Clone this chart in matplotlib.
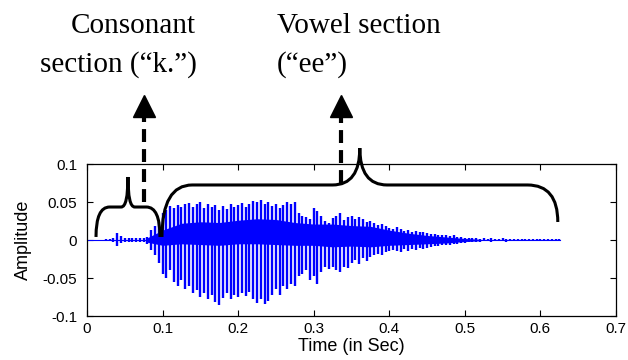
import numpy as np
import matplotlib
matplotlib.use("Agg")
import matplotlib.pyplot as plt
from matplotlib.path import Path
from matplotlib.patches import PathPatch

# one vertical stroke every 5 ms: upper and lower extent
stroke_dt = 0.005
stroke_hi = [
    .0005, .0005, .0006, .0005, .0006, .0008, .001, .002, .0095, .005,
    .003, .002, .0025, .002, .0025, .003, .004, .013, .018, .024,
    .035, .04, .045, .042, .046, .043, .047, .049, .044, .048,
    .05, .042, .047, .044, .046, .04, .045, .041, .048, .043,
    .046, .049, .044, .048, .051, .05, .053, .047, .05, .045,
    .048, .042, .046, .05, .048, .05, .036, .032, .03, .028,
    .042, .038, .032, .025, .022, .029, .031, .035, .026, .03,
    .032, .028, .03, .027, .024, .025, .022, .02, .021, .018,
    .016, .015, .017, .014, .012, .013, .011, .012, .01, .011,
    .009, .008, .008, .007, .006, .007, .005, .006, .004, .004,
    .003, .003, .0025, .002, .0018, .002, .0015, .002, .0016, .0015,
    .002, .0014, .0015, .0018, .0012, .0015, .0014, .0012, .0015, .0012,
    .001, .0012, .001, .0012, .001, .0008,
]
stroke_lo = [
    -.0005, -.0005, -.0005, -.0006, -.0005, -.0007, -.001, -.002, -.008, -.004,
    -.003, -.0025, -.002, -.0025, -.002, -.003, -.005, -.013, -.02, -.03,
    -.045, -.05, -.04, -.055, -.06, -.052, -.065, -.06, -.07, -.066,
    -.075, -.07, -.078, -.072, -.082, -.085, -.076, -.07, -.078, -.072,
    -.075, -.07, -.074, -.068, -.078, -.083, -.077, -.084, -.08, -.072,
    -.065, -.072, -.06, -.065, -.058, -.06, -.048, -.045, -.04, -.052,
    -.048, -.058, -.042, -.035, -.038, -.036, -.04, -.042, -.036, -.037,
    -.03, -.026, -.032, -.024, -.028, -.022, -.02, -.018, -.02, -.016,
    -.014, -.013, -.015, -.016, -.012, -.014, -.012, -.013, -.011, -.012,
    -.01, -.009, -.008, -.008, -.007, -.006, -.006, -.005, -.005, -.004,
    -.004, -.003, -.003, -.002, -.002, -.0018, -.0015, -.002, -.0015, -.0016,
    -.0015, -.002, -.0014, -.0015, -.0012, -.0016, -.0012, -.0014, -.0012, -.0015,
    -.001, -.0012, -.001, -.001, -.0012, -.0008,
]

# dense core of the voiced part
band_t = [0.08, 0.1, 0.125, 0.15, 0.175, 0.2, 0.225, 0.25, 0.275, 0.3,
          0.325, 0.35, 0.375, 0.4, 0.425, 0.45, 0.475, 0.5, 0.52]
band_hi = [0.003, 0.013, 0.022, 0.024, 0.023, 0.026, 0.028, 0.027, 0.023, 0.021,
           0.021, 0.019, 0.018, 0.013, 0.009, 0.006, 0.004, 0.002, 0.001]
band_lo = [-0.003, -0.007, -0.005, -0.006, -0.007, -0.005, -0.005, -0.006, -0.007, -0.007,
           -0.009, -0.008, -0.009, -0.007, -0.006, -0.005, -0.004, -0.002, -0.001]
signal_end = 0.626

x_ticks = [0, 0.1, 0.2, 0.3, 0.4, 0.5, 0.6, 0.7]
x_labels = ["0", "0.1", "0.2", "0.3", "0.4", "0.5", "0.6", "0.7"]
y_ticks = [-0.1, -0.05, 0, 0.05, 0.1]
y_labels = ["-0.1", "-0.05", "0", "0.05", "0.1"]

# braces: x0, x1, tip x, left foot, right foot, line y, tip y, left r, right r, tip r
braces = [
    (0.0119, 0.0966, 0.0542, 0.004, 0.004, 0.0434, 0.0829, 0.018, 0.018, 0.009),
    (0.0992, 0.623, 0.361, 0.004, 0.0237, 0.0724, 0.121, 0.04, 0.04, 0.036),
]
# arrows: x, bottom of dashed shaft
arrows = [(0.0755, 0.05), (0.336, 0.075)]
arrow_head_bottom = 0.1618
arrow_head_mid = 0.1763

blue = (0, 0, 1)

fig = plt.figure(figsize=(6.28, 3.6), dpi=100)
ax = fig.add_axes([87 / 628, 44 / 360, 529 / 628, 152 / 360])

t = np.arange(len(stroke_hi)) * stroke_dt
ax.plot([0, signal_end], [0, 0], color=blue, lw=0.8)
ax.fill_between(band_t, band_lo, band_hi, color=blue, lw=0)
ax.vlines(t, stroke_lo, stroke_hi, color=blue, lw=1.7)

ax.set_xlim(0, 0.7)
ax.set_ylim(-0.1, 0.1)
ax.set_xticks(x_ticks)
ax.set_xticklabels(x_labels)
ax.set_yticks(y_ticks)
ax.set_yticklabels(y_labels)
ax.tick_params(direction="in", top=True, right=True, length=4, width=0.8,
               labelsize=11)
ax.tick_params(axis="x", pad=4)
ax.tick_params(axis="y", pad=7)
for lab in ax.get_xticklabels() + ax.get_yticklabels():
    lab.set_family("Liberation Sans")
for s in ax.spines.values():
    s.set_linewidth(0.9)
ax.set_xlabel("Time (in Sec)", family="Liberation Sans", fontsize=13, labelpad=2)
ax.set_ylabel("Amplitude", family="Liberation Sans", fontsize=13, labelpad=8)

# curly braces
M, C, L = Path.MOVETO, Path.CURVE3, Path.LINETO
for x0, x1, xt, yfl, yfr, yl, yt, rl, rr, rt in braces:
    verts = [(x0, yfl), (x0, yl), (x0 + rl, yl),
             (xt - rt, yl), (xt, yl), (xt, yt),
             (xt, yl), (xt + rt, yl),
             (x1 - rr, yl), (x1, yl), (x1, yfr)]
    codes = [M, C, C, L, C, C, C, C, L, C, C]
    ax.add_patch(PathPatch(Path(verts, codes), fill=False, lw=2.2,
                           ec="black", clip_on=False, zorder=5))

# dashed arrows
for xa, yb in arrows:
    ax.plot([xa, xa], [yb, arrow_head_bottom], color="black", lw=3,
            ls=(0, (3.1, 1.7)), clip_on=False, zorder=5, solid_capstyle="butt",
            dash_capstyle="butt")
    ax.plot([xa], [arrow_head_mid], marker="^", ms=16, color="black",
            clip_on=False, zorder=6)

serif = "Liberation Serif"
fig.text(133 / 628, 1 - 33 / 360, "Consonant", family=serif, fontsize=21,
         ha="center", va="baseline")
fig.text(118.5 / 628, 1 - 72 / 360, "section (\u201ck.\u201d)", family=serif,
         fontsize=21, ha="center", va="baseline")
fig.text(277 / 628, 1 - 33 / 360, "Vowel section", family=serif, fontsize=21,
         ha="left", va="baseline")
fig.text(277 / 628, 1 - 72 / 360, "(\u201cee\u201d)", family=serif, fontsize=21,
         ha="left", va="baseline")

fig.savefig("out.png", dpi=100)
